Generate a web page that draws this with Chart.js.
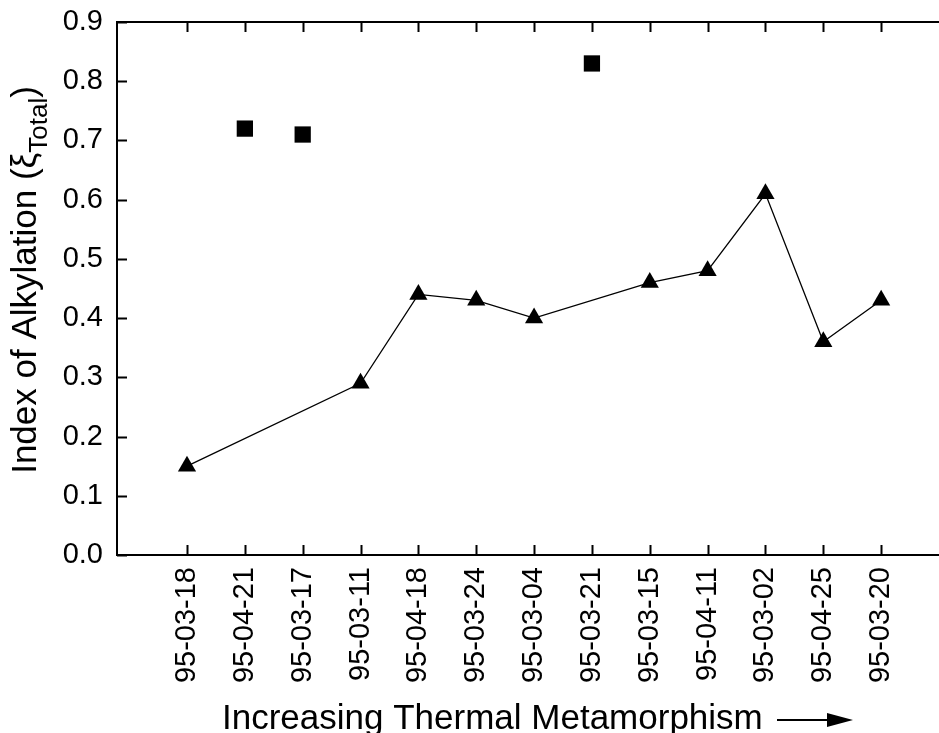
<!DOCTYPE html>
<html>
<head>
<meta charset="utf-8">
<script src="https://cdn.jsdelivr.net/npm/chart.js@4"></script>
<style>
  html, body { margin: 0; padding: 0; background: #fff; }
  #wrap { width: 939px; height: 733px; }
</style>
</head>
<body>
<div id="wrap"><canvas id="alkChart"></canvas></div>
<script>
const samples = ['95-03-18', '95-04-21', '95-03-17', '95-03-11', '95-04-18', '95-03-24', '95-03-04',
                 '95-03-21', '95-03-15', '95-04-11', '95-03-02', '95-04-25', '95-03-20'];
const triangleValues = [0.15, null, null, 0.29, 0.44, 0.43, 0.40, null, 0.46, 0.48, 0.61, 0.36, 0.43];
const squareValues = [null, 0.72, 0.71, null, null, null, null, 0.83, null, null, null, null, null];
const yTicks = [0, 0.1, 0.2, 0.3, 0.4, 0.5, 0.6, 0.7, 0.8, 0.9];

const FONT = '"Liberation Sans", Arial, sans-serif';

function toPoints(values) {
  return values.map((v, i) => ({ x: i, y: v }));
}

// frame, inward ticks and axis titles
const framePlugin = {
  id: 'frame',
  afterDraw(chart) {
    const ctx = chart.ctx;
    const area = chart.chartArea;
    const xs = chart.scales.x;
    const ys = chart.scales.y;
    ctx.save();
    ctx.strokeStyle = '#000';
    ctx.lineWidth = 2;
    ctx.beginPath();
    ctx.moveTo(area.left, area.top);
    ctx.lineTo(area.right, area.top);
    samples.forEach((s, i) => {
      const px = Math.round(xs.getPixelForValue(i)) + 0.5;
      ctx.moveTo(px, area.bottom);
      ctx.lineTo(px, area.bottom - 10);
      ctx.moveTo(px, area.top);
      ctx.lineTo(px, area.top + 10);
    });
    yTicks.forEach(v => {
      const py = Math.round(ys.getPixelForValue(v)) + 0.5;
      ctx.moveTo(area.left, py);
      ctx.lineTo(area.left + 10, py);
    });
    ctx.stroke();

    // y title with subscript
    ctx.fillStyle = '#000';
    ctx.translate(36, 280);
    ctx.rotate(-Math.PI / 2);
    const main = 'Index of Alkylation (\u03BE';
    const sub = 'Total';
    const close = ')';
    ctx.font = '35px ' + FONT;
    const wMain = ctx.measureText(main).width;
    const wClose = ctx.measureText(close).width;
    ctx.font = '26px ' + FONT;
    const wSub = ctx.measureText(sub).width;
    let x0 = -(wMain + wSub + wClose) / 2;
    ctx.textBaseline = 'alphabetic';
    ctx.font = '35px ' + FONT;
    ctx.fillText(main, x0, 0);
    ctx.font = '26px ' + FONT;
    ctx.fillText(sub, x0 + wMain, 11);
    ctx.font = '35px ' + FONT;
    ctx.fillText(close, x0 + wMain + wSub, 0);
    ctx.restore();

    // x title and arrow
    ctx.save();
    ctx.fillStyle = '#000';
    ctx.strokeStyle = '#000';
    ctx.font = '35px ' + FONT;
    ctx.textBaseline = 'alphabetic';
    ctx.fillText('Increasing Thermal Metamorphism', 222, 729);
    ctx.lineWidth = 2;
    ctx.beginPath();
    ctx.moveTo(777, 720);
    ctx.lineTo(830, 720);
    ctx.stroke();
    ctx.beginPath();
    ctx.moveTo(827, 713);
    ctx.lineTo(853, 720);
    ctx.lineTo(827, 727);
    ctx.closePath();
    ctx.fill();
    ctx.restore();
  }
};

const alkChart = new Chart(document.getElementById('alkChart'), {
  type: 'line',
  data: {
    datasets: [{
      label: 'Triangles',
      data: toPoints(triangleValues),
      borderColor: '#000',
      backgroundColor: '#000',
      borderWidth: 1.3,
      pointStyle: 'triangle',
      pointRadius: 10.5,
      pointBorderWidth: 0,
      spanGaps: true,
      tension: 0
    }, {
      label: 'Squares',
      data: toPoints(squareValues),
      borderColor: '#000',
      backgroundColor: '#000',
      showLine: false,
      pointStyle: 'rect',
      pointRadius: 11.5,
      pointBorderWidth: 0
    }]
  },
  options: {
    responsive: true,
    maintainAspectRatio: false,
    animation: false,
    layout: { autoPadding: false, padding: { top: 22, right: 0, left: 0, bottom: 0 } },
    plugins: {
      legend: { display: false },
      tooltip: { enabled: false }
    },
    scales: {
      x: {
        type: 'linear',
        min: -1.21,
        max: 13,
        afterBuildTicks: scale => {
          scale.ticks = samples.map((s, i) => ({ value: i }));
        },
        afterFit: scale => {
          scale.height = 178;
          scale.paddingLeft = 0;
          scale.paddingRight = 0;
        },
        grid: { display: false, drawTicks: false },
        border: { display: true, color: '#000', width: 2 },
        ticks: {
          autoSkip: false,
          minRotation: 90,
          maxRotation: 90,
          padding: 12,
          color: '#000',
          font: { family: FONT, size: 29 },
          callback: v => samples[v]
        }
      },
      y: {
        min: 0,
        max: 0.9,
        afterBuildTicks: scale => {
          scale.ticks = yTicks.map(v => ({ value: v }));
        },
        afterFit: scale => {
          scale.width = 117;
          scale.paddingTop = 0;
          scale.paddingBottom = 0;
        },
        grid: { display: false, drawTicks: false },
        border: { display: true, color: '#000', width: 2 },
        ticks: {
          padding: 14,
          color: '#000',
          font: { family: FONT, size: 29 },
          callback: v => v.toFixed(1)
        }
      }
    }
  },
  plugins: [framePlugin]
});
</script>
</body>
</html>
